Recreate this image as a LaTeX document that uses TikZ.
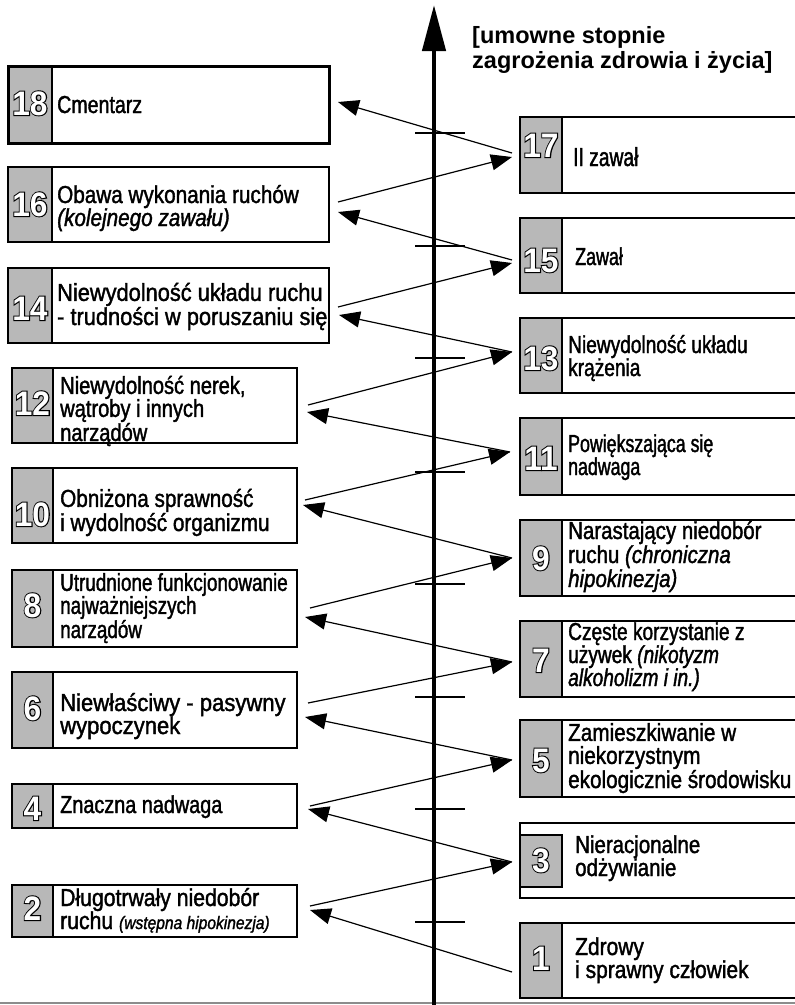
\documentclass[tikz,border=0pt]{standalone}
\usepackage{fontspec}
\setmainfont{Liberation Sans}
\newfontfamily\numblack[FakeStretch=0.93,FakeBold=6]{Liberation Sans Bold}
\newfontfamily\numwhite[FakeStretch=0.93]{Liberation Sans Bold}
\usetikzlibrary{arrows.meta}
\definecolor{colgray}{gray}{0.72}
\newcommand\mkbox[6][]{\node[box,#1, minimum width={#4-#2}, minimum height={#6-#3}] (#5) at ({(#2+#4)/2},{(#3+#6)/2}) {};}
\newcommand\mkcol[4]{\filldraw[numcol] (#1,#2) rectangle (#3,#4);}
\newcommand\mknum[4]{\node[numk] (#1k) at (#2,#3) {#4};\node[numw] (#1w) at (#2,#3) {#4};}
\begin{document}
\begin{tikzpicture}[x=1pt,y=-1pt,
  box/.style={rectangle, draw, fill=white, line width=1.1pt, inner sep=0pt, outer sep=0pt},
  numcol/.style={fill=colgray, draw=black, line width=1.1pt},
  numk/.style={anchor=base, inner sep=0pt, text=black, font=\numblack\fontsize{34}{34}\selectfont},
  numw/.style={anchor=base, inner sep=0pt, text=white, font=\numwhite\fontsize{34}{34}\selectfont},
  txt/.style={anchor=base west, align=left, inner sep=0pt, font={\fontspec[FakeStretch=#1,FakeBold=1.5]{Liberation Sans}\fontsize{24.5}{23}\selectfont}},
  bigtxt/.style={anchor=base west, align=left, inner sep=0pt, font={\fontspec[FakeStretch=#1,FakeBold=1.5]{Liberation Sans}\fontsize{26}{26}\selectfont}},
  head/.style={anchor=base west, align=left, inner sep=0pt, font=\bfseries\fontsize{23.5}{25}\selectfont},
  conn/.style={line width=1.2pt, -{Triangle[length=21pt,width=16pt]}},
  axisline/.style={line width=4.5pt, -{Triangle[length=46pt,width=23pt]}},
  tick/.style={line width=1.1pt},
  baseline/.style={draw=black!45, line width=1.5pt}]
\useasboundingbox (0,0) rectangle (795,1005);
\clip (0,0) rectangle (795,1005);

% bottom line
\draw[baseline] (0,1003) -- (795,1003);

% axis
\coordinate (axb) at (434,1010);
\coordinate (axt) at (434,5);
\draw[axisline] (axb) -- (axt);
\foreach \ty in {133,246,358,472,584,697,809,922}
  \draw[tick] (415,\ty) -- (465,\ty);

% heading (anchor = baseline of last line)
\node[head] (hd) at (472,68) {[umowne stopnie\\zagrożenia zdrowia i życia]};

% left boxes
\mkbox[line width=3pt]{8}{66}{329}{b18}{143}
\mkcol{8}{66}{52}{143}
\draw[line width=3pt] (b18.north west) rectangle (b18.south east);
\mkbox{8}{167}{329}{b16}{242}   \mkcol{8}{167}{52}{242}
\mkbox{8}{268}{329}{b14}{343}   \mkcol{8}{268}{52}{343}
\mkbox{12}{368}{297}{b12}{443}  \mkcol{12}{368}{53}{443}
\mkbox{12}{468}{297}{b10}{543}  \mkcol{12}{468}{53}{543}
\mkbox{12}{570}{297}{b8}{647}   \mkcol{12}{570}{53}{647}
\mkbox{12}{672}{297}{b6}{748}   \mkcol{12}{672}{53}{748}
\mkbox{12}{784}{297}{b4}{828}   \mkcol{12}{784}{53}{828}
\mkbox{12}{885}{297}{b2}{937}   \mkcol{12}{885}{53}{937}

% right boxes
\mkbox{520}{117}{800}{b17}{193} \mkcol{520}{117}{562}{193}
\mkbox{520}{218}{800}{b15}{293} \mkcol{520}{218}{562}{293}
\mkbox{520}{318}{800}{b13}{393} \mkcol{520}{318}{562}{393}
\mkbox{520}{418}{800}{b11}{495} \mkcol{520}{418}{562}{495}
\mkbox{520}{520}{800}{b9}{596}  \mkcol{520}{520}{562}{596}
\mkbox{520}{621}{800}{b7}{697}  \mkcol{520}{621}{562}{697}
\mkbox{520}{720}{800}{b5}{797}  \mkcol{520}{720}{562}{797}
\mkbox{520}{823}{800}{b3}{898}  \mkcol{520}{835}{562}{887}
\mkbox{520}{923}{800}{b1}{998}  \mkcol{520}{923}{562}{998}

% numbers
\mknum{n18}{30}{115}{18}
\mknum{n16}{30}{216}{16}
\mknum{n14}{30}{320}{14}
\mknum{n12}{32.5}{415}{12}
\mknum{n10}{32.5}{526}{10}
\mknum{n8}{32.5}{617}{8}
\mknum{n6}{32.5}{720}{6}
\mknum{n4}{32.5}{820}{4}
\mknum{n2}{32.5}{920}{2}
\mknum{n17}{541}{157}{17}
\mknum{n15}{541}{272}{15}
\mknum{n13}{541}{370}{13}
\mknum{n11}{541}{470}{11}
\mknum{n9}{541}{570}{9}
\mknum{n7}{541}{672}{7}
\mknum{n5}{541}{772}{5}
\mknum{n3}{541}{872}{3}
\mknum{n1}{541}{970}{1}

% texts left (anchor = baseline of last line)
\node[txt=0.8] (t18) at (57,113) {Cmentarz};
\node[txt=0.845] (t16) at (57,226) {Obawa wykonania ruchów\\{\itshape (kolejnego zawału)}};
\node[txt=0.89] (t14) at (57,325) {Niewydolność układu ruchu\\- trudności w poruszaniu się};
\node[txt=0.82] (t12) at (60,441) {Niewydolność nerek,\\wątroby i innych\\narządów};
\node[txt=0.845] (t10) at (60,531) {Obniżona sprawność\\i wydolność organizmu};
\node[txt=0.77] (t8) at (60,638) {Utrudnione funkcjonowanie\\najważniejszych\\narządów};
\node[txt=0.9] (t6) at (60,734) {Niewłaściwy - pasywny\\wypoczynek};
\node[txt=0.81] (t4) at (60,813) {Znaczna nadwaga};
\node[txt=0.865] (t2) at (60,929) {Długotrwały niedobór\\ruchu {\fontsize{18}{18}\selectfont\itshape (wstępna hipokinezja)}};

% texts right
\node[bigtxt=0.74] (t17) at (573,166) {II zawał};
\node[txt=0.73] (t15) at (575,265) {Zawał};
\node[txt=0.78] (t13) at (568,376) {Niewydolność układu\\krążenia};
\node[txt=0.725] (t11) at (568,475) {Powiększająca się\\nadwaga};
\node[txt=0.835] (t9) at (568,587) {Narastający niedobór\\[1pt]ruchu {\itshape (chroniczna}\\[1pt]{\itshape hipokinezja)}};
\node[txt=0.78] (t7) at (568,686) {Częste korzystanie z\\używek {\itshape (nikotyzm}\\{\itshape alkoholizm i in.)}};
\node[txt=0.845] (t5) at (568,788) {Zamieszkiwanie w\\niekorzystnym\\ekologicznie środowisku};
\node[txt=0.835] (t3) at (575,876) {Nieracjonalne\\odżywianie};
\node[txt=0.855] (t1) at (575,978) {Zdrowy\\i sprawny człowiek};

% connectors
\draw[conn] ([shift={(-8,11.5)}]b1.west) -- ([shift={(13,-1)}]b2.east);
\draw[conn] ([shift={(13,-5)}]b2.east) -- ([shift={(-8,1.5)}]b3.west);
\draw[conn] ([shift={(-8,1.5)}]b3.west) -- ([shift={(11,3)}]b4.east);
\draw[conn] ([shift={(13,0)}]b4.east) -- ([shift={(-8,1.5)}]b5.west);
\draw[conn] ([shift={(-8,1.5)}]b5.west) -- ([shift={(8,7)}]b6.east);
\draw[conn] ([shift={(11,-7)}]b6.east) -- ([shift={(-8,3)}]b7.west);
\draw[conn] ([shift={(-8,3)}]b7.west) -- ([shift={(8,8.5)}]b8.east);
\draw[conn] ([shift={(13,-0.5)}]b8.east) -- ([shift={(-8,0)}]b9.west);
\draw[conn] ([shift={(-8,0)}]b9.west) -- ([shift={(6,-0.5)}]b10.east);
\draw[conn] ([shift={(8,-5.5)}]b10.east) -- ([shift={(-10,-4.5)}]b11.west);
\draw[conn] ([shift={(-10,-4.5)}]b11.west) -- ([shift={(10,6.5)}]b12.east);
\draw[conn] ([shift={(11,-0.5)}]b12.east) -- ([shift={(-8,-3.5)}]b13.west);
\draw[conn] ([shift={(-8,-3.5)}]b13.west) -- ([shift={(10,9.5)}]b14.east);
\draw[conn] ([shift={(9,1.5)}]b14.east) -- ([shift={(-8,7.5)}]b15.west);
\draw[conn] ([shift={(-8,4.5)}]b15.west) -- ([shift={(9,7.5)}]b16.east);
\draw[conn] ([shift={(9,-2.5)}]b16.east) -- ([shift={(-8,2)}]b17.west);
\draw[conn] ([shift={(-8,-2)}]b17.west) -- ([shift={(9,-2.5)}]b18.east);
\end{tikzpicture}
\end{document}
